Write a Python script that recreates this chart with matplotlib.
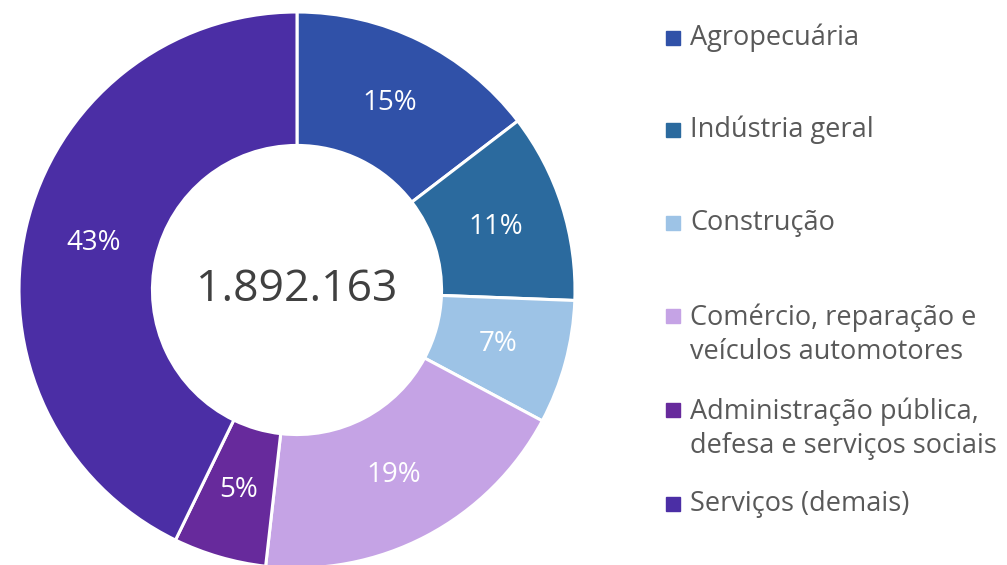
import matplotlib.pyplot as plt
from matplotlib.patches import Rectangle

plt.rcParams['font.family'] = ['Open Sans', 'DejaVu Sans']

# dados
setores = ['Agropecuária', 'Indústria geral', 'Construção',
           'Comércio, reparação e\nveículos automotores',
           'Administração pública,\ndefesa e serviços sociais',
           'Serviços (demais)']
valores = [14.6, 11.0, 7.2, 19.0, 5.4, 42.8]
cores = ['#3051A8', '#2B6A9E', '#9DC3E6', '#C5A3E5', '#672A9C', '#4B2EA5']
total = '1.892.163'

fig = plt.figure(figsize=(10.07, 5.65), dpi=100)
ax = fig.add_axes([19 / 1007, -3 / 565, 556 / 1007, 556 / 565])

wedges, textos, pcts = ax.pie(valores, colors=cores, startangle=90, counterclock=False,
                              radius=1.0, autopct='%.0f%%', pctdistance=0.75,
                              wedgeprops=dict(width=0.48, edgecolor='white', linewidth=2.2),
                              textprops=dict(color='white', fontsize=20))
ax.set_xlim(-1, 1)
ax.set_ylim(-1, 1)
ax.set_aspect('equal')
ax.axis('off')

ax.text(0, 0, total, ha='center', va='center', fontsize=32, color='#404040')

# legenda manual
ys = [38, 130, 223, 316, 410, 504]
for s, c, y in zip(setores, cores, ys):
    fig.patches.append(Rectangle((666 / 1007, 1 - (y + 7) / 565), 14 / 1007, 14 / 565,
                                 transform=fig.transFigure, color=c))
    yc = y + 19 if '\n' in s else y
    fig.text(690 / 1007, 1 - yc / 565, s, ha='left', va='center',
             fontsize=19.5, color='#595959', linespacing=1.3)

plt.savefig('out.png', dpi=100)
